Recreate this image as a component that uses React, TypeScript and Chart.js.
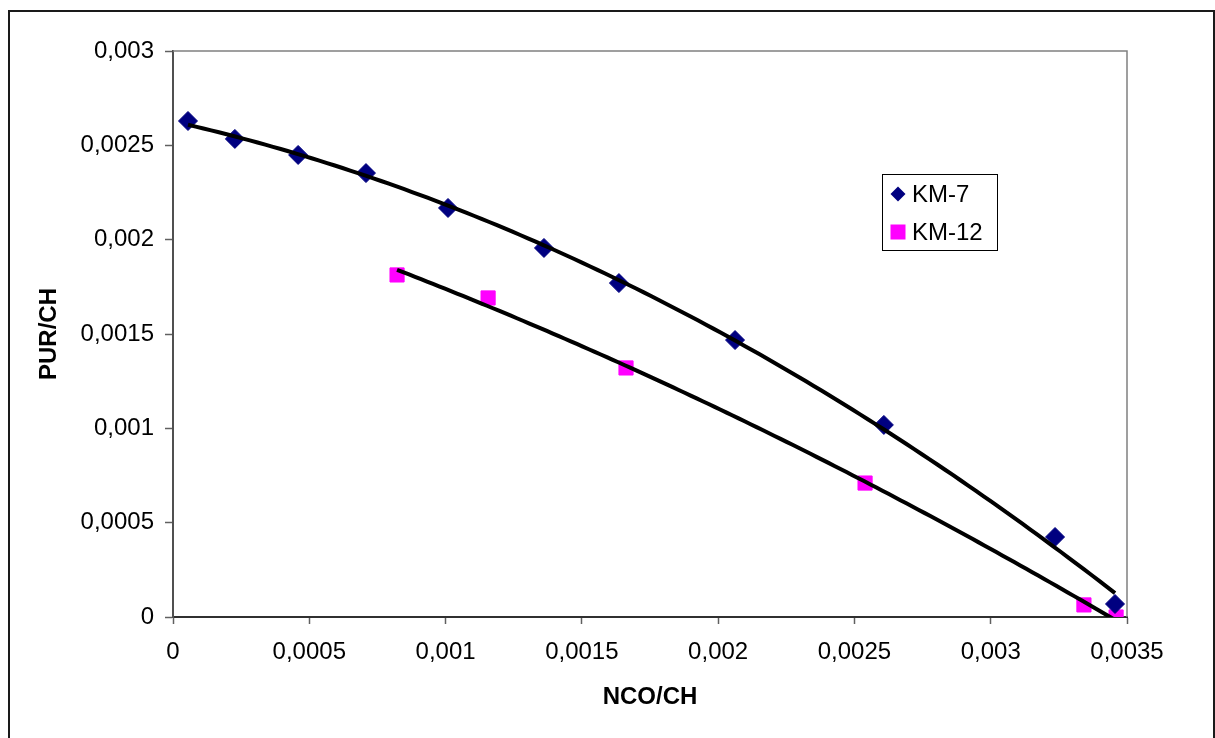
import React, { useEffect, useRef } from "react";
import { Chart, registerables } from "chart.js";

Chart.register(...registerables);

// ---- Data ----
const seriesNames = ["KM-7", "KM-12"];
const km7X = [0.000055, 0.000227, 0.000459, 0.000708, 0.001009, 0.001361, 0.001636, 0.002062, 0.002608, 0.003236, 0.003456];
const km7Y = [0.002629, 0.002534, 0.002449, 0.002353, 0.002168, 0.001956, 0.00177, 0.001468, 0.001018, 0.000424, 0.000069];
const km12X = [0.000822, 0.001156, 0.001662, 0.002539, 0.003342, 0.00346];
const km12Y = [0.001813, 0.001691, 0.00132, 0.00071, 0.000064, 0.0];
const xAxisTitle = "NCO/CH";
const yAxisTitle = "PUR/CH";
const xMin = 0, xMax = 0.0035, xStep = 0.0005;
const yMin = 0, yMax = 0.003, yStep = 0.0005;

const FONT = '"Liberation Sans", Arial, sans-serif';
const KM7_COLOR = "#000080";
const KM12_COLOR = "#FF00FF";

// Least-squares polynomial (order 2) trendline, like Excel's trendline
function fitQuadratic(xs: number[], ys: number[]) {
  const s = 1000; // scale x for numeric stability
  const S = [0, 0, 0, 0, 0];
  const T = [0, 0, 0];
  xs.forEach((x0, i) => {
    const x = x0 * s;
    for (let k = 0; k <= 4; k++) S[k] += Math.pow(x, k);
    for (let k = 0; k <= 2; k++) T[k] += ys[i] * Math.pow(x, k);
  });
  const A = [
    [S[0], S[1], S[2], T[0]],
    [S[1], S[2], S[3], T[1]],
    [S[2], S[3], S[4], T[2]],
  ];
  for (let c = 0; c < 3; c++) {
    let p = c;
    for (let r = c + 1; r < 3; r++) if (Math.abs(A[r][c]) > Math.abs(A[p][c])) p = r;
    [A[c], A[p]] = [A[p], A[c]];
    for (let r = 0; r < 3; r++) {
      if (r === c) continue;
      const f = A[r][c] / A[c][c];
      for (let k = c; k < 4; k++) A[r][k] -= f * A[c][k];
    }
  }
  const coef = [A[0][3] / A[0][0], A[1][3] / A[1][1], A[2][3] / A[2][2]];
  return (x0: number) => {
    const x = x0 * s;
    return coef[0] + coef[1] * x + coef[2] * x * x;
  };
}

function trendPoints(xs: number[], ys: number[]) {
  const f = fitQuadratic(xs, ys);
  const lo = Math.min(...xs), hi = Math.max(...xs);
  const pts: { x: number; y: number }[] = [];
  const n = 120;
  for (let i = 0; i <= n; i++) {
    const x = lo + ((hi - lo) * i) / n;
    pts.push({ x, y: f(x) });
  }
  return pts;
}

function fmt(v: number) {
  return Number(v.toFixed(6)).toString().replace(".", ",");
}

const decorPlugin = {
  id: "decor",
  afterDraw(chart: any) {
    const { ctx, chartArea: a } = chart;
    ctx.save();
    // outer chart border
    ctx.strokeStyle = "#1a1a1a";
    ctx.lineWidth = 2;
    ctx.strokeRect(9, 11, 1205, 740);
    // plot area top/right border
    ctx.strokeStyle = "#808080";
    ctx.lineWidth = 1.5;
    ctx.beginPath();
    ctx.moveTo(a.left, a.top);
    ctx.lineTo(a.right, a.top);
    ctx.lineTo(a.right, a.bottom);
    ctx.stroke();
    // axis titles
    ctx.fillStyle = "#000";
    ctx.font = `bold 24px ${FONT}`;
    ctx.textAlign = "center";
    ctx.textBaseline = "middle";
    ctx.fillText(xAxisTitle, (a.left + a.right) / 2, 697);
    ctx.save();
    ctx.translate(49, (a.top + a.bottom) / 2);
    ctx.rotate(-Math.PI / 2);
    ctx.fillText(yAxisTitle, 0, 0);
    ctx.restore();
    // legend
    const lx = 882, ly = 174, lw = 115, lh = 76;
    ctx.fillStyle = "#fff";
    ctx.fillRect(lx, ly, lw, lh);
    ctx.strokeStyle = "#000";
    ctx.lineWidth = 1;
    ctx.strokeRect(lx + 0.5, ly + 0.5, lw, lh);
    // diamond
    ctx.fillStyle = KM7_COLOR;
    ctx.beginPath();
    const dx = 898, dy = 194, r = 7.5;
    ctx.moveTo(dx, dy - r);
    ctx.lineTo(dx + r, dy);
    ctx.lineTo(dx, dy + r);
    ctx.lineTo(dx - r, dy);
    ctx.closePath();
    ctx.fill();
    // square
    ctx.fillStyle = KM12_COLOR;
    ctx.fillRect(898 - 7.5, 232 - 7.5, 15, 15);
    ctx.fillStyle = "#000";
    ctx.font = `24px ${FONT}`;
    ctx.textAlign = "left";
    ctx.fillText(seriesNames[0], 912, 195);
    ctx.fillText(seriesNames[1], 912, 233);
    ctx.restore();
  },
};

export default function App() {
  const ref = useRef<HTMLCanvasElement | null>(null);

  useEffect(() => {
    if (!ref.current) return;
    const chart = new Chart(ref.current, {
      type: "scatter",
      data: {
        datasets: [
          {
            type: "line",
            label: "trend-" + seriesNames[0],
            data: trendPoints(km7X, km7Y),
            borderColor: "#000",
            borderWidth: 4,
            pointRadius: 0,
            fill: false,
            tension: 0,
            order: 0,
          } as any,
          {
            type: "line",
            label: "trend-" + seriesNames[1],
            data: trendPoints(km12X, km12Y),
            borderColor: "#000",
            borderWidth: 4,
            pointRadius: 0,
            fill: false,
            tension: 0,
            order: 0,
          } as any,
          {
            label: seriesNames[0],
            data: km7X.map((x, i) => ({ x, y: km7Y[i] })),
            pointStyle: "rectRot",
            pointRadius: 9.5,
            pointBackgroundColor: KM7_COLOR,
            pointBorderColor: KM7_COLOR,
            pointBorderWidth: 1,
            showLine: false,
            order: 1,
          },
          {
            label: seriesNames[1],
            data: km12X.map((x, i) => ({ x, y: km12Y[i] })),
            pointStyle: "rect",
            pointRadius: 10,
            pointBackgroundColor: KM12_COLOR,
            pointBorderColor: KM12_COLOR,
            pointBorderWidth: 1,
            showLine: false,
            order: 1,
          },
        ],
      },
      options: {
        animation: false,
        responsive: false,
        maintainAspectRatio: false,
        layout: { padding: { left: 0, top: 51, right: 88, bottom: 0 } },
        plugins: { legend: { display: false }, tooltip: { enabled: false } },
        scales: {
          x: {
            type: "linear",
            min: xMin,
            max: xMax,
            afterFit: (s: any) => {
              s.height = 121;
            },
            ticks: {
              stepSize: xStep,
              color: "#000",
              font: { family: FONT, size: 24 },
              padding: 14,
              maxRotation: 0,
              callback: (v: any) => fmt(Number(v)),
            },
            grid: {
              display: true,
              drawOnChartArea: false,
              drawTicks: true,
              tickLength: 7,
              tickColor: "#606060",
              tickWidth: 1.5,
            },
            border: { display: true, color: "#303030", width: 2 },
          },
          y: {
            type: "linear",
            min: yMin,
            max: yMax,
            afterFit: (s: any) => {
              s.width = 173;
            },
            ticks: {
              stepSize: yStep,
              color: "#000",
              font: { family: FONT, size: 24 },
              padding: 11,
              callback: (v: any) => fmt(Number(v)),
            },
            grid: {
              display: true,
              drawOnChartArea: false,
              drawTicks: true,
              tickLength: 8,
              tickColor: "#606060",
              tickWidth: 1.5,
            },
            border: { display: true, color: "#505050", width: 2 },
          },
        },
      },
      plugins: [decorPlugin],
    });
    return () => chart.destroy();
  }, []);

  return (
    <div style={{ position: "fixed", left: 0, top: 0, width: 1215, height: 738, background: "#fff" }}>
      <canvas ref={ref} width={1215} height={738} style={{ display: "block", width: 1215, height: 738 }} />
    </div>
  );
}
